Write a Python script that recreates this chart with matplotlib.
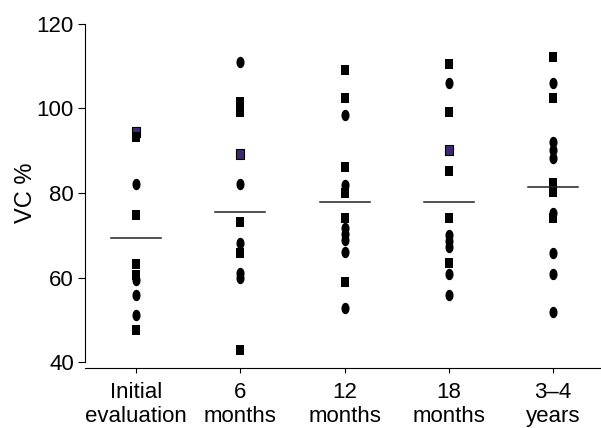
import matplotlib
matplotlib.use("Agg")
import matplotlib.pyplot as plt
from matplotlib import font_manager
import numpy as np
from matplotlib.path import Path

# groups along the x axis
groups = ["Initial\nevaluation", "6\nmonths", "12\nmonths", "18\nmonths", "3\u20134\nyears"]

# VC %, one list per group and marker kind
squares = [
    [93.3, 74.8, 63.2, 60.6, 47.6],
    [101.6, 99.1, 73.1, 65.7, 42.8],
    [109.1, 102.4, 86.2, 80.0, 74.1, 59.0],
    [110.5, 99.2, 85.3, 74.0, 63.4],
    [112.3, 102.4, 82.3, 80.2, 74.1],
]
purple = [
    [94.4],
    [89.2],
    [],
    [90.2],
    [],
]
circles = [
    [82.1, 59.4, 55.9, 51.1],
    [111.0, 82.1, 68.1, 61.1, 59.9],
    [98.5, 81.9, 71.7, 70.3, 68.9, 66.1, 52.7],
    [106.1, 70.1, 68.6, 67.2, 60.8, 55.9],
    [106.1, 92.1, 90.2, 88.3, 75.3, 65.7, 60.8, 51.9],
]
means = [69.3, 75.6, 77.9, 77.9, 81.5]

# narrow font if there is one, else plain Liberation Sans a bit smaller
names = {f.name for f in font_manager.fontManager.ttflist}
if 'Liberation Sans Narrow' in names:
    plt.rcParams['font.family'] = ['Liberation Sans Narrow', 'DejaVu Sans']
    fs = 18
else:
    plt.rcParams['font.family'] = ['Liberation Sans', 'DejaVu Sans']
    fs = 16

# slightly tall markers like in the original
sq_marker = Path([(-0.83, -1), (0.83, -1), (0.83, 1), (-0.83, 1), (-0.83, -1)],
                 [Path.MOVETO, Path.LINETO, Path.LINETO, Path.LINETO, Path.CLOSEPOLY])
t = np.linspace(0, 2 * np.pi, 60)
circ_marker = Path(np.column_stack([0.71 * np.cos(t), np.sin(t)]))

fig = plt.figure(figsize=(6.01, 4.28), dpi=100)
ax = fig.add_axes([85/601, 1 - 362/428, 515/601, 338/428])

for i in range(len(groups)):
    xs = np.full(len(purple[i]), i)
    ax.plot(xs, purple[i], linestyle='none', marker=sq_marker, markersize=7.2,
            markerfacecolor='#3d2a6e', markeredgecolor='black', markeredgewidth=0.8)
    xs = np.full(len(squares[i]), i)
    ax.plot(xs, squares[i], linestyle='none', marker=sq_marker, markersize=7.2,
            color='black', markeredgewidth=0)
    xs = np.full(len(circles[i]), i)
    ax.plot(xs, circles[i], linestyle='none', marker=circ_marker, markersize=8.2,
            color='black', markeredgewidth=0)
    ax.plot([i - 0.24, i + 0.24], [means[i], means[i]], color='#222222', linewidth=1.1)

ax.set_xlim(-0.49, 4.45)
ax.set_ylim(40, 120)
ax.set_yticks([40, 60, 80, 100, 120])
ax.set_xticks(range(len(groups)))
ax.set_xticklabels(groups, linespacing=0.92)
ax.set_ylabel("VC %", fontsize=fs + 1, labelpad=-0.5)

ax.spines['top'].set_visible(False)
ax.spines['right'].set_visible(False)
ax.spines['bottom'].set_position(('outward', 4.3))
for s in ['left', 'bottom']:
    ax.spines[s].set_linewidth(0.8)
ax.tick_params(axis='y', labelsize=fs, length=5, width=0.8, pad=3)
ax.tick_params(axis='x', labelsize=fs, length=3.5, width=0.8, pad=6.5)

fig.savefig("out.png", dpi=100)
